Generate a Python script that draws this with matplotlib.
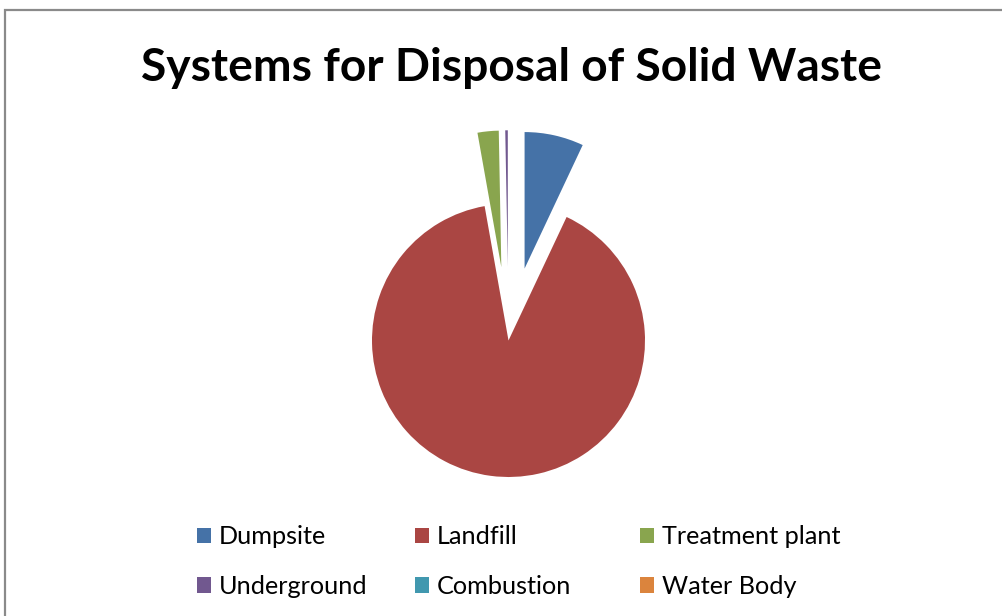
import matplotlib
matplotlib.use("Agg")
import matplotlib.pyplot as plt
from matplotlib.patches import Rectangle

plt.rcParams["font.family"] = ["Lato", "DejaVu Sans"]

# data (percent of total)
categories = ["Dumpsite", "Landfill", "Treatment plant", "Underground", "Combustion", "Water Body"]
shares = [7.0, 90.2, 2.5, 0.3, 0.0, 0.0]
explode = [0.54, 0.0, 0.54, 0.54, 0.54, 0.54]
COLORS = ["#4572A7", "#AA4643", "#89A54E", "#71588F", "#4198AF", "#DB843D"]

W, H = 1002, 616
fig = plt.figure(figsize=(W / 100, H / 100), dpi=100)

# chart frame (only left and top edges show in the crop)
fig.patches.append(
    Rectangle((5 / W, -0.1), 1.2, (H - 10) / H + 0.1, transform=fig.transFigure,
              fill=False, edgecolor="#8a8a8a", linewidth=1.6)
)

fig.text(512 / W, 1 - 68 / H, "Systems for Disposal of Solid Waste",
         ha="center", va="center", fontsize=33.2, fontweight="bold")

# pie axes: centre at (508, 340) px, radius about 136.5 px
R = 136.5
cx, cy = 508.5, 340.5
span = 1.6
ax = fig.add_axes([(cx - span * R) / W, (H - cy - span * R) / H,
                   2 * span * R / W, 2 * span * R / H])
wedges, _ = ax.pie(shares, explode=explode, colors=COLORS, startangle=90,
                   counterclock=False, wedgeprops={"linewidth": 0})
ax.set_xlim(-span, span)
ax.set_ylim(-span, span)
ax.set_aspect("equal")
ax.axis("off")

# legend: 3 equal-width columns, filled row by row
col_x = [197, 415, 640]
for c in range(3):
    idx = [c, c + 3]
    fig.legend([wedges[i] for i in idx], [categories[i] for i in idx],
               loc="center left", bbox_to_anchor=(col_x[c] / W, 1 - 561.5 / H),
               frameon=False, fontsize=18.2, handlelength=0.56, handleheight=0.56,
               handletextpad=0.3, labelspacing=1.05, borderpad=0,
               borderaxespad=0)

fig.savefig("out.png", dpi=100, facecolor="white")
